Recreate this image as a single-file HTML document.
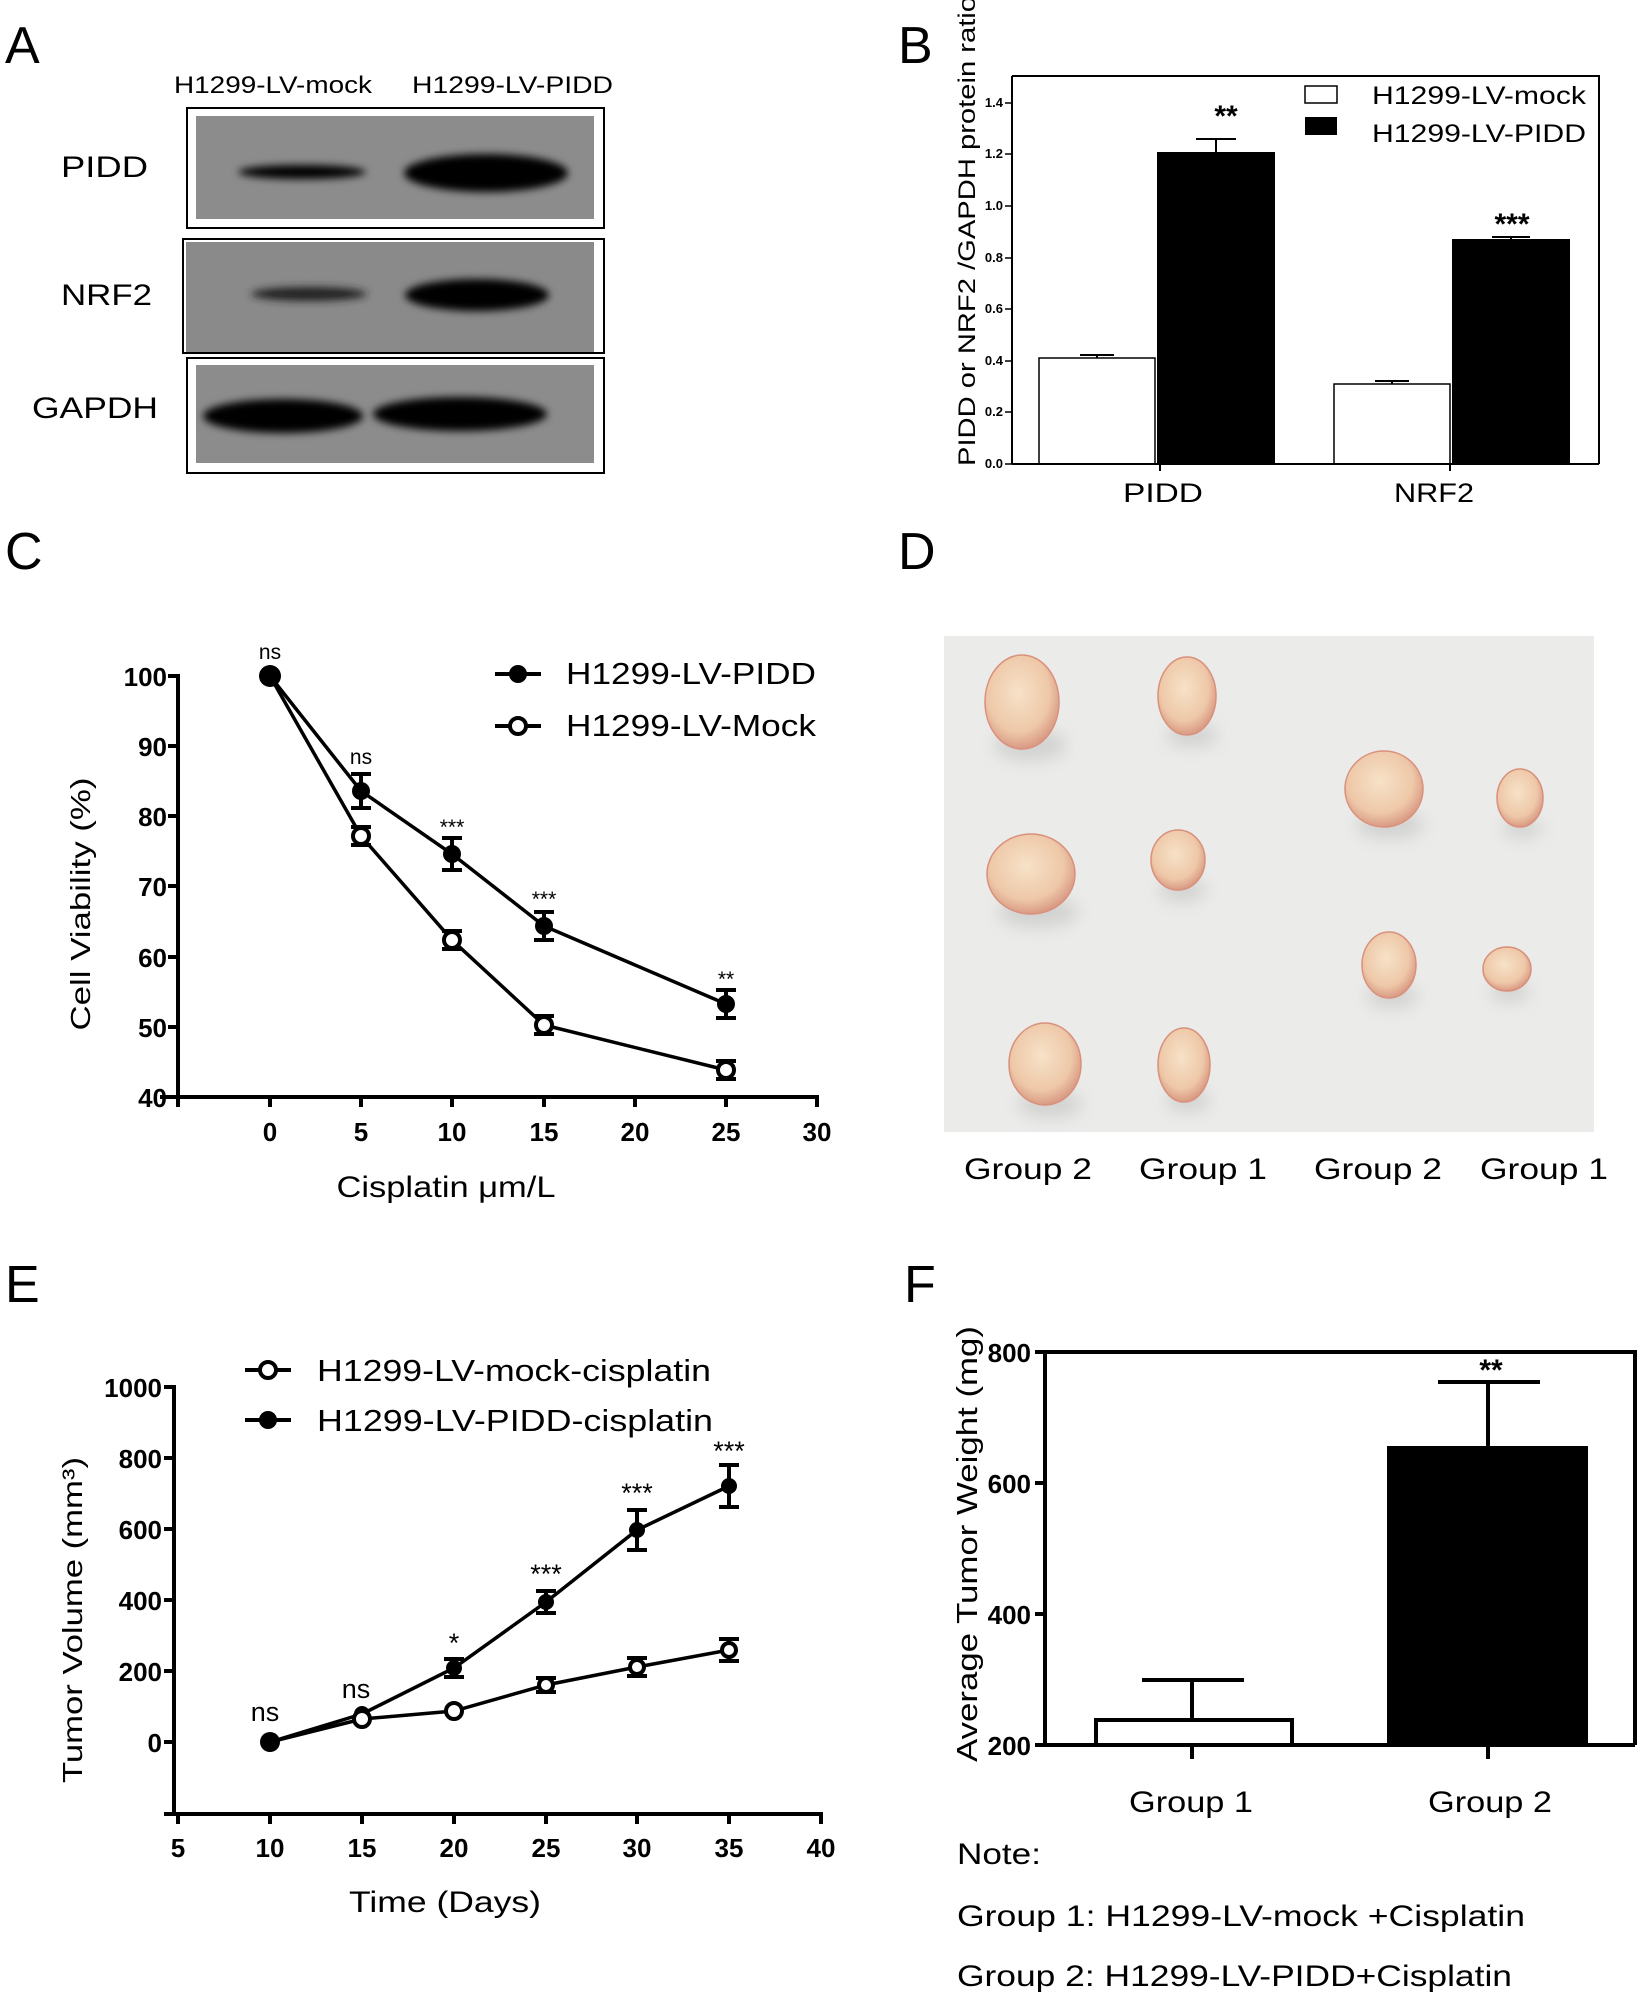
<!DOCTYPE html>
<html><head><meta charset="utf-8"><style>html,body{margin:0;padding:0;background:#fff}svg{display:block}text{font-family:"Liberation Sans",Arial,sans-serif}</style></head>
<body>
<svg width="1639" height="1993" viewBox="0 0 1639 1993" xmlns="http://www.w3.org/2000/svg">
<defs>
<filter id="bl" x="-30%" y="-50%" width="160%" height="200%"><feGaussianBlur stdDeviation="4"/></filter>
<filter id="bl2" x="-30%" y="-30%" width="160%" height="160%"><feGaussianBlur stdDeviation="8"/></filter>
<radialGradient id="tg" cx="45%" cy="40%" r="60%"><stop offset="0" stop-color="#f7e2c8"/><stop offset="0.7" stop-color="#eec8a8"/><stop offset="1" stop-color="#d99a84"/></radialGradient>
</defs>
<rect width="1639" height="1993" fill="#fff"/>

<!-- Panel A -->
<text x="5" y="63" font-size="52">A</text>
<text x="174" y="93" font-size="24" textLength="198" lengthAdjust="spacingAndGlyphs">H1299-LV-mock</text>
<text x="412" y="93" font-size="24" textLength="201" lengthAdjust="spacingAndGlyphs">H1299-LV-PIDD</text>
<rect x="187" y="108" width="417" height="120" fill="#fff" stroke="#000" stroke-width="2"/>
<rect x="196" y="116" width="398" height="103" fill="#8c8c8c"/>
<rect x="183" y="239" width="421" height="114" fill="#fff" stroke="#000" stroke-width="2"/>
<rect x="186" y="242" width="408" height="110" fill="#8a8a8a"/>
<rect x="187" y="358" width="417" height="115" fill="#fff" stroke="#000" stroke-width="2"/>
<rect x="196" y="365" width="398" height="98" fill="#8c8c8c"/>
<g fill="#000" filter="url(#bl)">
<ellipse cx="302" cy="172" rx="64" ry="7"/>
<ellipse cx="486" cy="173" rx="82" ry="19"/>
<ellipse cx="309" cy="294" rx="58" ry="7" fill="#222"/>
<ellipse cx="477" cy="295" rx="72" ry="16"/>
<ellipse cx="283" cy="416" rx="80" ry="17"/>
<ellipse cx="460" cy="414" rx="87" ry="17"/>
</g>
<text x="61" y="177" font-size="30" textLength="87" lengthAdjust="spacingAndGlyphs">PIDD</text>
<text x="61" y="305" font-size="30" textLength="91" lengthAdjust="spacingAndGlyphs">NRF2</text>
<text x="32" y="418" font-size="30" textLength="126" lengthAdjust="spacingAndGlyphs">GAPDH</text>

<!-- Panel B -->
<text x="898" y="63" font-size="52">B</text>
<text transform="translate(975,466) rotate(-90)" font-size="24" textLength="470" lengthAdjust="spacingAndGlyphs">PIDD or NRF2 /GAPDH protein ratio</text>
<g stroke="#000" stroke-width="2" fill="none">
<polyline points="1012,76 1599,76 1599,464"/>
</g>
<g font-size="13" font-weight="bold" text-anchor="end">
<text x="1003" y="468">0.0</text><text x="1003" y="416">0.2</text><text x="1003" y="365">0.4</text><text x="1003" y="313">0.6</text><text x="1003" y="262">0.8</text><text x="1003" y="210">1.0</text><text x="1003" y="158">1.2</text><text x="1003" y="107">1.4</text>
</g>
<g stroke="#000" stroke-width="1.5">
<line x1="1005" y1="464" x2="1012" y2="464"/><line x1="1005" y1="412" x2="1012" y2="412"/><line x1="1005" y1="361" x2="1012" y2="361"/><line x1="1005" y1="309" x2="1012" y2="309"/><line x1="1005" y1="258" x2="1012" y2="258"/><line x1="1005" y1="206" x2="1012" y2="206"/><line x1="1005" y1="154" x2="1012" y2="154"/><line x1="1005" y1="103" x2="1012" y2="103"/>
</g>
<rect x="1039" y="358" width="116" height="106" fill="#fff" stroke="#000" stroke-width="1.5"/>
<rect x="1157" y="152" width="118" height="312" fill="#000"/>
<rect x="1334" y="384" width="116" height="80" fill="#fff" stroke="#000" stroke-width="1.5"/>
<rect x="1452" y="239" width="118" height="225" fill="#000"/>
<g stroke="#000" stroke-width="2">
<line x1="1097" y1="358" x2="1097" y2="355"/><line x1="1080" y1="355" x2="1114" y2="355"/>
<line x1="1216" y1="152" x2="1216" y2="139"/><line x1="1196" y1="139" x2="1236" y2="139"/>
<line x1="1392" y1="384" x2="1392" y2="381"/><line x1="1375" y1="381" x2="1409" y2="381"/>
<line x1="1511" y1="239" x2="1511" y2="237"/><line x1="1492" y1="237" x2="1530" y2="237"/>
<line x1="1012" y1="76" x2="1012" y2="464"/><line x1="1012" y1="464" x2="1599" y2="464"/>
<line x1="1160" y1="464" x2="1160" y2="471"/><line x1="1450" y1="464" x2="1450" y2="471"/>
</g>
<text x="1226" y="126" font-size="30" font-weight="bold" text-anchor="middle">**</text>
<text x="1512" y="234" font-size="30" font-weight="bold" text-anchor="middle">***</text>
<text x="1163" y="502" font-size="27" text-anchor="middle" textLength="80" lengthAdjust="spacingAndGlyphs">PIDD</text>
<text x="1434" y="502" font-size="27" text-anchor="middle" textLength="80" lengthAdjust="spacingAndGlyphs">NRF2</text>
<rect x="1305" y="86" width="32" height="17" fill="#fff" stroke="#000" stroke-width="1.5"/>
<rect x="1305" y="117" width="32" height="18" fill="#000"/>
<text x="1372" y="104" font-size="25" textLength="214" lengthAdjust="spacingAndGlyphs">H1299-LV-mock</text>
<text x="1372" y="142" font-size="25" textLength="214" lengthAdjust="spacingAndGlyphs">H1299-LV-PIDD</text>

<!-- Panel C -->
<text x="5" y="569" font-size="52">C</text>
<text transform="translate(90,904) rotate(-90)" font-size="28" text-anchor="middle" textLength="253" lengthAdjust="spacingAndGlyphs">Cell Viability (%)</text>
<g stroke="#000" stroke-width="4">
<line x1="178" y1="674" x2="178" y2="1099"/>
<line x1="160" y1="1097" x2="819" y2="1097"/>
<line x1="168" y1="676" x2="178" y2="676"/><line x1="168" y1="746" x2="178" y2="746"/><line x1="168" y1="816" x2="178" y2="816"/><line x1="168" y1="886" x2="178" y2="886"/><line x1="168" y1="957" x2="178" y2="957"/><line x1="168" y1="1027" x2="178" y2="1027"/>
<line x1="178" y1="1097" x2="178" y2="1107"/><line x1="270" y1="1097" x2="270" y2="1107"/><line x1="361" y1="1097" x2="361" y2="1107"/><line x1="452" y1="1097" x2="452" y2="1107"/><line x1="544" y1="1097" x2="544" y2="1107"/><line x1="635" y1="1097" x2="635" y2="1107"/><line x1="726" y1="1097" x2="726" y2="1107"/><line x1="817" y1="1097" x2="817" y2="1107"/>
</g>
<g font-size="26" font-weight="bold" text-anchor="end">
<text x="167" y="686">100</text><text x="167" y="756">90</text><text x="167" y="826">80</text><text x="167" y="896">70</text><text x="167" y="967">60</text><text x="167" y="1037">50</text><text x="167" y="1107">40</text>
</g>
<g font-size="26" font-weight="bold" text-anchor="middle">
<text x="270" y="1141">0</text><text x="361" y="1141">5</text><text x="452" y="1141">10</text><text x="544" y="1141">15</text><text x="635" y="1141">20</text><text x="726" y="1141">25</text><text x="817" y="1141">30</text>
</g>
<text x="446" y="1197" font-size="30" text-anchor="middle" textLength="219" lengthAdjust="spacingAndGlyphs">Cisplatin μm/L</text>
<g stroke="#000" stroke-width="3.5" fill="none">
<polyline points="270,676 361,791 452,854 544,926 726,1004"/>
<polyline points="270,676 361,836 452,940 544,1025 726,1070"/>
</g>
<g stroke="#000" stroke-width="4">
<line x1="361" y1="774" x2="361" y2="808"/><line x1="351" y1="774" x2="371" y2="774"/><line x1="351" y1="808" x2="371" y2="808"/>
<line x1="452" y1="838" x2="452" y2="870"/><line x1="442" y1="838" x2="462" y2="838"/><line x1="442" y1="870" x2="462" y2="870"/>
<line x1="544" y1="912" x2="544" y2="940"/><line x1="534" y1="912" x2="554" y2="912"/><line x1="534" y1="940" x2="554" y2="940"/>
<line x1="726" y1="990" x2="726" y2="1018"/><line x1="716" y1="990" x2="736" y2="990"/><line x1="716" y1="1018" x2="736" y2="1018"/>
<line x1="351" y1="827" x2="371" y2="827"/><line x1="351" y1="845" x2="371" y2="845"/>
<line x1="442" y1="931" x2="462" y2="931"/><line x1="442" y1="949" x2="462" y2="949"/>
<line x1="534" y1="1016" x2="554" y2="1016"/><line x1="534" y1="1034" x2="554" y2="1034"/>
<line x1="716" y1="1061" x2="736" y2="1061"/><line x1="716" y1="1079" x2="736" y2="1079"/>
</g>
<g fill="#000"><circle cx="270" cy="676" r="11"/><circle cx="361" cy="791" r="9"/><circle cx="452" cy="854" r="9"/><circle cx="544" cy="926" r="9"/><circle cx="726" cy="1004" r="9"/></g>
<g fill="#fff" stroke="#000" stroke-width="4"><circle cx="361" cy="836" r="8"/><circle cx="452" cy="940" r="8"/><circle cx="544" cy="1025" r="8"/><circle cx="726" cy="1070" r="8"/></g>
<g font-size="21" text-anchor="middle">
<text x="270" y="659">ns</text><text x="361" y="764">ns</text><text x="452" y="834">***</text><text x="544" y="906">***</text><text x="726" y="986">**</text>
</g>
<line x1="495" y1="674" x2="541" y2="674" stroke="#000" stroke-width="4"/><circle cx="518" cy="674" r="9" fill="#000"/>
<line x1="495" y1="726" x2="541" y2="726" stroke="#000" stroke-width="4"/><circle cx="518" cy="726" r="8" fill="#fff" stroke="#000" stroke-width="4"/>
<text x="566" y="684" font-size="31" textLength="250" lengthAdjust="spacingAndGlyphs">H1299-LV-PIDD</text>
<text x="566" y="736" font-size="31" textLength="250" lengthAdjust="spacingAndGlyphs">H1299-LV-Mock</text>

<!-- Panel D -->
<text x="898" y="569" font-size="52">D</text>
<rect x="944" y="636" width="650" height="496" fill="#ebebea"/>
<g fill="#9a9a98" opacity="0.3" filter="url(#bl2)">
<ellipse cx="1030" cy="745" rx="36" ry="16"/><ellipse cx="1192" cy="735" rx="26" ry="12"/><ellipse cx="1390" cy="825" rx="34" ry="14"/><ellipse cx="1522" cy="828" rx="20" ry="10"/><ellipse cx="1038" cy="912" rx="40" ry="16"/><ellipse cx="1182" cy="890" rx="24" ry="12"/><ellipse cx="1392" cy="996" rx="26" ry="12"/><ellipse cx="1510" cy="992" rx="20" ry="10"/><ellipse cx="1050" cy="1104" rx="32" ry="14"/><ellipse cx="1188" cy="1100" rx="22" ry="12"/>
</g>
<g fill="url(#tg)" stroke="#d9907c" stroke-width="1.5">
<ellipse cx="1022" cy="702" rx="37" ry="47"/><ellipse cx="1187" cy="696" rx="29" ry="39"/><ellipse cx="1384" cy="789" rx="39" ry="38"/><ellipse cx="1520" cy="798" rx="23" ry="29"/><ellipse cx="1031" cy="874" rx="44" ry="40"/><ellipse cx="1178" cy="860" rx="27" ry="30"/><ellipse cx="1389" cy="965" rx="27" ry="33"/><ellipse cx="1507" cy="969" rx="24" ry="22"/><ellipse cx="1045" cy="1064" rx="36" ry="41"/><ellipse cx="1184" cy="1065" rx="26" ry="37"/>
</g>
<g font-size="30" text-anchor="middle">
<text x="1028" y="1179" textLength="128" lengthAdjust="spacingAndGlyphs">Group 2</text><text x="1203" y="1179" textLength="128" lengthAdjust="spacingAndGlyphs">Group 1</text><text x="1378" y="1179" textLength="128" lengthAdjust="spacingAndGlyphs">Group 2</text><text x="1544" y="1179" textLength="128" lengthAdjust="spacingAndGlyphs">Group 1</text>
</g>

<!-- Panel E -->
<text x="5" y="1302" font-size="52">E</text>
<text transform="translate(82,1620) rotate(-90)" font-size="28" text-anchor="middle" textLength="326" lengthAdjust="spacingAndGlyphs">Tumor Volume (mm³)</text>
<g stroke="#000" stroke-width="4">
<line x1="174" y1="1385" x2="174" y2="1816"/>
<line x1="164" y1="1814" x2="823" y2="1814"/>
<line x1="164" y1="1387" x2="174" y2="1387"/><line x1="164" y1="1458" x2="174" y2="1458"/><line x1="164" y1="1529" x2="174" y2="1529"/><line x1="164" y1="1600" x2="174" y2="1600"/><line x1="164" y1="1671" x2="174" y2="1671"/><line x1="164" y1="1742" x2="174" y2="1742"/>
<line x1="178" y1="1814" x2="178" y2="1824"/><line x1="270" y1="1814" x2="270" y2="1824"/><line x1="362" y1="1814" x2="362" y2="1824"/><line x1="454" y1="1814" x2="454" y2="1824"/><line x1="546" y1="1814" x2="546" y2="1824"/><line x1="637" y1="1814" x2="637" y2="1824"/><line x1="729" y1="1814" x2="729" y2="1824"/><line x1="821" y1="1814" x2="821" y2="1824"/>
</g>
<g font-size="26" font-weight="bold" text-anchor="end">
<text x="162" y="1397">1000</text><text x="162" y="1468">800</text><text x="162" y="1539">600</text><text x="162" y="1610">400</text><text x="162" y="1681">200</text><text x="162" y="1752">0</text>
</g>
<g font-size="26" font-weight="bold" text-anchor="middle">
<text x="178" y="1857">5</text><text x="270" y="1857">10</text><text x="362" y="1857">15</text><text x="454" y="1857">20</text><text x="546" y="1857">25</text><text x="637" y="1857">30</text><text x="729" y="1857">35</text><text x="821" y="1857">40</text>
</g>
<text x="445" y="1912" font-size="30" text-anchor="middle" textLength="192" lengthAdjust="spacingAndGlyphs">Time (Days)</text>
<g stroke="#000" stroke-width="3.5" fill="none">
<polyline points="270,1742 362,1714 454,1668 546,1602 637,1530 729,1486"/>
<polyline points="270,1742 362,1719 454,1711 546,1685 637,1667 729,1650"/>
</g>
<g stroke="#000" stroke-width="4">
<line x1="454" y1="1659" x2="454" y2="1677"/><line x1="444" y1="1659" x2="464" y2="1659"/><line x1="444" y1="1677" x2="464" y2="1677"/>
<line x1="546" y1="1591" x2="546" y2="1613"/><line x1="536" y1="1591" x2="556" y2="1591"/><line x1="536" y1="1613" x2="556" y2="1613"/>
<line x1="637" y1="1510" x2="637" y2="1550"/><line x1="627" y1="1510" x2="647" y2="1510"/><line x1="627" y1="1550" x2="647" y2="1550"/>
<line x1="729" y1="1465" x2="729" y2="1507"/><line x1="719" y1="1465" x2="739" y2="1465"/><line x1="719" y1="1507" x2="739" y2="1507"/>
<line x1="546" y1="1678" x2="546" y2="1692"/><line x1="536" y1="1678" x2="556" y2="1678"/><line x1="536" y1="1692" x2="556" y2="1692"/>
<line x1="637" y1="1658" x2="637" y2="1676"/><line x1="627" y1="1658" x2="647" y2="1658"/><line x1="627" y1="1676" x2="647" y2="1676"/>
<line x1="729" y1="1639" x2="729" y2="1661"/><line x1="719" y1="1639" x2="739" y2="1639"/><line x1="719" y1="1661" x2="739" y2="1661"/>
</g>
<g fill="#000"><circle cx="270" cy="1742" r="10"/><circle cx="362" cy="1714" r="8"/><circle cx="454" cy="1668" r="8"/><circle cx="546" cy="1602" r="8"/><circle cx="637" cy="1530" r="8"/><circle cx="729" cy="1486" r="8"/></g>
<g fill="#fff" stroke="#000" stroke-width="4"><circle cx="362" cy="1719" r="8"/><circle cx="454" cy="1711" r="8"/><circle cx="546" cy="1685" r="7"/><circle cx="637" cy="1667" r="7"/><circle cx="729" cy="1650" r="7"/></g>
<g font-size="27" text-anchor="middle">
<text x="265" y="1721">ns</text><text x="356" y="1698">ns</text><text x="454" y="1652">*</text><text x="546" y="1583">***</text><text x="637" y="1502">***</text><text x="729" y="1460">***</text>
</g>
<line x1="245" y1="1370" x2="291" y2="1370" stroke="#000" stroke-width="4"/><circle cx="268" cy="1370" r="8" fill="#fff" stroke="#000" stroke-width="4"/>
<line x1="245" y1="1420" x2="291" y2="1420" stroke="#000" stroke-width="4"/><circle cx="268" cy="1420" r="9" fill="#000"/>
<text x="317" y="1381" font-size="31" textLength="394" lengthAdjust="spacingAndGlyphs">H1299-LV-mock-cisplatin</text>
<text x="317" y="1431" font-size="31" textLength="396" lengthAdjust="spacingAndGlyphs">H1299-LV-PIDD-cisplatin</text>

<!-- Panel F -->
<text x="904" y="1302" font-size="52">F</text>
<text transform="translate(977,1544) rotate(-90)" font-size="29" text-anchor="middle" textLength="436" lengthAdjust="spacingAndGlyphs">Average Tumor Weight (mg)</text>
<rect x="1096" y="1720" width="196" height="25" fill="#fff" stroke="#000" stroke-width="4"/>
<rect x="1387" y="1446" width="201" height="299" fill="#000"/>
<g stroke="#000" stroke-width="4">
<polyline points="1045,1745 1045,1352 1635,1352 1635,1745" fill="none"/>
<line x1="1035" y1="1745" x2="1635" y2="1745"/>
<line x1="1035" y1="1352" x2="1045" y2="1352"/><line x1="1035" y1="1483" x2="1045" y2="1483"/><line x1="1035" y1="1614" x2="1045" y2="1614"/><line x1="1035" y1="1745" x2="1045" y2="1745"/>
<line x1="1192" y1="1720" x2="1192" y2="1680"/><line x1="1142" y1="1680" x2="1244" y2="1680"/>
<line x1="1488" y1="1446" x2="1488" y2="1382"/><line x1="1438" y1="1382" x2="1540" y2="1382"/>
<line x1="1192" y1="1745" x2="1192" y2="1759"/><line x1="1488" y1="1745" x2="1488" y2="1759"/>
</g>
<g font-size="26" font-weight="bold" text-anchor="end">
<text x="1031" y="1362">800</text><text x="1031" y="1493">600</text><text x="1031" y="1624">400</text><text x="1031" y="1755">200</text>
</g>
<text x="1491" y="1380" font-size="30" font-weight="bold" text-anchor="middle">**</text>
<text x="1191" y="1812" font-size="30" text-anchor="middle" textLength="124" lengthAdjust="spacingAndGlyphs">Group 1</text>
<text x="1490" y="1812" font-size="30" text-anchor="middle" textLength="124" lengthAdjust="spacingAndGlyphs">Group 2</text>
<text x="957" y="1864" font-size="30" textLength="84" lengthAdjust="spacingAndGlyphs">Note:</text>
<text x="957" y="1926" font-size="30" textLength="568" lengthAdjust="spacingAndGlyphs">Group 1: H1299-LV-mock +Cisplatin</text>
<text x="957" y="1986" font-size="30" textLength="555" lengthAdjust="spacingAndGlyphs">Group 2: H1299-LV-PIDD+Cisplatin</text>
</svg>
</body></html>
